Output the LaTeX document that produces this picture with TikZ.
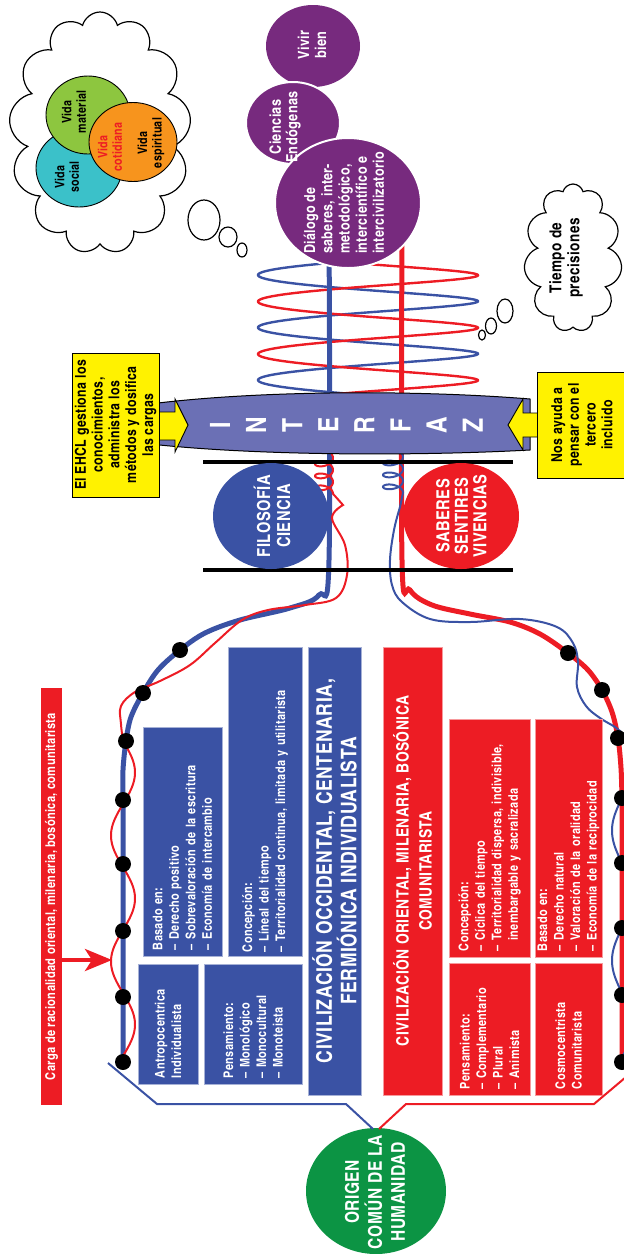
\documentclass[tikz,border=0pt]{standalone}
\usepackage{fontspec}
\usetikzlibrary{shapes.symbols,arrows.meta}
\setmainfont{texgyreheroscn-bold}[Extension=.otf]
\newfontfamily\cn{texgyreheroscn-bold}[Extension=.otf, LetterSpace=2.5]

\definecolor{civblue}{RGB}{58,82,164}
\definecolor{civred}{RGB}{237,28,36}
\definecolor{lenscol}{RGB}{107,112,181}
\definecolor{purp}{RGB}{119,42,126}
\definecolor{origin}{RGB}{12,148,68}
\definecolor{yel}{RGB}{255,242,0}
\definecolor{vgreen}{RGB}{141,198,63}
\definecolor{vteal}{RGB}{59,193,201}
\definecolor{vorange}{RGB}{247,148,29}

\tikzset{
  rtxt/.style={rotate=90, inner sep=0pt, font=\cn, align=center},
  civbox/.style={rotate=90, inner sep=0pt, text=white, fill=#1, draw=white!55!#1,
    line width=0.6, font=\cn\fontsize{13.3}{16.5}\selectfont, align=left},
  bluebox/.style={civbox=civblue},
  redbox/.style={civbox=civred},
  thought/.style={cloud, draw, line width=1.2, fill=white, cloud ignores aspect, inner sep=0pt},
  bubble/.style={draw, line width=1.2, fill=white},
  disc/.style={draw=black, line width=0.9},
  vida/.style={rtxt, font=\cn\fontsize{13}{14.5}\selectfont},
  rope/.style={line width=5},
  thread/.style={line width=2},
  knot/.style={fill=black},
  yelbox/.style={rotate=90, fill=yel, draw=black, line width=1, inner sep=0pt,
    font=\cn\fontsize{15}{16.8}\selectfont, align=center},
  letter/.style={rotate=90, inner sep=0pt, text=white, font=\cn\fontsize{28}{28}\selectfont},
}

\begin{document}
\begin{tikzpicture}[x=1pt,y=-1pt]
\useasboundingbox (0,0) rectangle (624,1254);
\clip (0,0) rectangle (624,1254);

% ---------- thought cloud with the three lives ----------
\node[thought, cloud puffs=13, minimum width=182, minimum height=242] (vcloud) at (100,133) {};
\draw[bubble] (204,220) ellipse [x radius=16, y radius=20];
\draw[bubble] (228,237) ellipse [x radius=9, y radius=10];
\draw[bubble] (242,250) ellipse [x radius=5, y radius=7];
\filldraw[disc, fill=vteal] (79,168) ellipse [x radius=43, y radius=39];
\filldraw[disc, fill=vgreen] (88,115) ellipse [x radius=42, y radius=39];
\filldraw[disc, fill=vorange] (133,142) ellipse [x radius=44, y radius=39.5];
\node[vida] (vmat) at (74,112) {Vida\\material};
\node[vida] (vsoc) at (67,177) {Vida\\social};
\node[vida, text=civred] (vcot) at (110,147) {Vida\\cotidiana};
\node[vida] (vesp) at (151,143) {Vida\\espiritual};

% ---------- second thought cloud ----------
\node[thought, cloud puffs=11, minimum width=98, minimum height=148] (tcloud) at (573,258) {};
\draw[bubble] (505,311) ellipse [x radius=8, y radius=12];
\draw[bubble] (491,326) ellipse [x radius=5.5, y radius=8];
\draw[bubble] (482,335) ellipse [x radius=3.5, y radius=5];
\node[rtxt, font=\cn\fontsize{16.5}{18}\selectfont] (tiempo) at (566,258) {Tiempo de\\precisiones};

% ---------- double helix ----------
\draw[civblue, line width=2.4, domain=-1.2:15.2, samples=320, variable=\t]
  plot ({368-110*cos(\t r)}, {275+8.36*\t+2*sin(\t r)});
\draw[civred, line width=2.4, domain=1.2:18, samples=320, variable=\t]
  plot ({368-110*cos(\t r)}, {249+8.36*\t+2*sin(\t r)});

% ---------- ropes ----------
\coordinate (bd1) at (180,650); \coordinate (bd2) at (143,693); \coordinate (bd3) at (126,741);
\coordinate (bd4) at (123,800); \coordinate (bd5) at (123,864); \coordinate (bd6) at (123,931);
\coordinate (bd7) at (123,997); \coordinate (bd8) at (123,1062);
\coordinate (rd1) at (568,653); \coordinate (rd2) at (602,690); \coordinate (rd3) at (618,738);
\coordinate (rd4) at (622,798); \coordinate (rd5) at (622,863); \coordinate (rd6) at (622,928);
\coordinate (rd7) at (622,995); \coordinate (rd8) at (622,1062);

\draw[civblue, rope] plot[smooth, tension=0.55] coordinates {(329,225) (329,560) (319,595) (290,608)
  (240,620) (205,633) (bd1) (158,670) (bd2) (131,717) (bd3) (123,770) (bd4)} -- (bd8);
\draw[civred, rope] plot[smooth, tension=0.55] coordinates {(402,225) (402,560) (410,590) (432,605)
  (470,614) (510,622) (540,634) (rd1) (588,670) (rd2) (612,712) (rd3) (621,768) (rd4)} -- (rd8);

% thin red thread wound round the blue rope
\draw[civred, thread, domain=-0.6:18.85, samples=200, variable=\t]
  plot ({324+9*cos(\t r)}, {458+1.9*\t+5*sin(\t r)})
  -- plot[smooth, tension=0.6] coordinates {(343,505) (332,518) (345,545) (347,575) (336,598)
  (305,605) (268,610) (242,620) (215,643) (190,665) (160,681) (135,692) (121,706) (121,724) (123,741)}
  -- plot[domain=741:1060, samples=160, variable=\y] ({123+12*sin(((\y-741)/63)*180)}, {\y});

% thin blue thread wound round the red rope
\draw[civblue, thread, domain=-0.6:18.85, samples=200, variable=\t]
  plot ({393+10*cos(\t r)}, {457+1.9*\t+5*sin(\t r)})
  -- plot[smooth, tension=0.6] coordinates {(400,507) (394,530) (390,560) (392,585) (402,602)
  (430,619) (470,622) (520,619) (557,627) (573,643) (578,662) (577,687) (586,706) (600,718)
  (615,727) (622,733)}
  -- plot[domain=733:1060, samples=160, variable=\y] ({622-10*sin(((\y-798)/65)*180)}, {\y});

% ---------- purple circles ----------
\fill[purp] (313,46) ellipse [x radius=47, y radius=41];
\filldraw[purp, draw=white, line width=2] (293,123) ellipse [x radius=47, y radius=41];
\filldraw[purp, draw=white, line width=2] (348,203) ellipse [x radius=73, y radius=65];
\node[rtxt, text=white, font=\cn\fontsize{15.5}{17}\selectfont] (vivir) at (312,45) {Vivir\\bien};
\node[rtxt, text=white, font=\cn\fontsize{15.5}{16.5}\selectfont] (ciencias) at (285,127) {Ciencias\\Endógenas};
\node[rtxt, text=white, align=left, font=\cn\fontsize{15.2}{17.2}\selectfont] (dialogo) at (344,203)
  {Diálogo de\\saberes, inter-\\metodológico,\\intercientífico e\\intercivilizatorio};

% ---------- interface lens ----------
\filldraw[fill=lenscol, draw=black, line width=1] (150,404) .. controls (260,390) and (420,390) .. (530,399)
  -- (530,450) .. controls (420,456) and (260,456) .. (150,444) -- cycle;
\foreach \ch [count=\i] in {I,N,T,E,R,F,A,Z}{
  \pgfmathsetmacro{\lx}{220+36.1*(\i-1)}
  \node[letter] (lt\i) at (\lx,425) {\ch};
}

% arrows from the two notes into the lens
\filldraw[fill=yel, draw=black, line width=0.9] (155,412) -- (175,412) -- (175,399) -- (188,425)
  -- (175,452) -- (175,440) -- (155,440) -- cycle;
\filldraw[fill=yel, draw=black, line width=0.9] (541,413) -- (523,413) -- (523,399) -- (508,425)
  -- (523,450) -- (523,437) -- (541,437) -- cycle;
\node[yelbox, minimum width=144, minimum height=87] (ehcl) at (115.5,425)
  {El EHCL gestiona los\\conocimientos,\\administra los\\métodos y dosifica\\las cargas};
\node[yelbox, minimum width=106, minimum height=90] (tercero) at (582,425)
  {Nos ayuda a\\pensar con el\\tercero\\incluido};

% ---------- frame bars and the two sources ----------
\draw[line width=4] (203,462) -- (513,462);
\draw[line width=4] (203,570) -- (513,570);
\fill[civblue] (271,516) ellipse [x radius=58, y radius=53];
\fill[civred] (461,516) ellipse [x radius=58, y radius=53];
\node[rtxt, text=white, font=\cn\fontsize{18}{20}\selectfont] (filo) at (272,516) {FILOSOFÍA\\CIENCIA};
\node[rtxt, text=white, font=\cn\fontsize{18}{18.5}\selectfont] (saberes) at (461.5,516) {SABERES\\SENTIRES\\VIVENCIAS};

% knots on the ropes
\foreach \k in {bd1,bd2,bd3,bd4,bd5,bd6,bd7,bd8,rd1,rd2,rd3,rd4,rd5,rd6,rd7,rd8}
  \fill[knot] (\k) circle (8);

% ---------- load bar ----------
\node[rtxt, fill=civred, text=white, minimum width=417, minimum height=21,
  font=\cn\fontsize{13.5}{14}\selectfont] (carga) at (51.5,896.5)
  {Carga de racionalidad oriental, milenaria, bosónica, comunitarista};
\coordinate (cargatip) at (112,960);
\draw[civred, line width=4, -{Stealth[length=27pt, width=22pt, inset=7pt]}] (carga.south |- cargatip) -- (cargatip);

% ---------- western civilisation ----------
\node[bluebox, minimum width=229, minimum height=79, text width=217] (occbas) at (182.5,841.5)
  {Basado en:\\– Derecho positivo\\– Sobrevaloración de la escritura\\– Economía de intercambio};
\node[bluebox, minimum width=120, minimum height=60, text width=108] (occant) at (168,1024)
  {Antropocentrica\\Individualista};
\node[bluebox, minimum width=120, minimum height=98, text width=108] (occpen) at (253,1024)
  {Pensamiento:\\– Monológico\\– Monocultural\\– Monoteista};
\node[bluebox, minimum width=309, minimum height=74, text width=301] (occcon) at (265,801.5)
  {Concepción:\\– Líneal del tiempo\\– Territorialidad continua, limitada y utilitarista};
\node[bluebox, minimum width=448, minimum height=53, align=center,
  font=\cn\fontsize{21.5}{19.5}\selectfont] (occtit) at (334.5,871)
  {CIVILIZACIÓN OCCIDENTAL, CENTENARIA,\\FERMIÓNICA INDIVIDUALISTA};

% ---------- eastern civilisation ----------
\node[redbox, minimum width=448, minimum height=59, align=center,
  font=\cn\fontsize{17}{23}\selectfont] (oritit) at (412.5,871)
  {CIVILIZACIÓN ORIENTAL, MILENARIA, BOSÓNICA\\COMUNITARISTA};
\node[redbox, minimum width=238, minimum height=81, text width=226] (oricon) at (489.5,838)
  {Concepción:\\– Cíclica del tiempo\\– Territorialidad dispersa, indivisible,\\\phantom{– }inembargable y sacralizada};
\node[redbox, minimum width=132, minimum height=81, text width=120] (oripen) at (489.5,1029)
  {Pensamiento:\\– Complementario\\– Plural\\– Animista};
\node[redbox, minimum width=238, minimum height=67, text width=226] (oribas) at (568.5,838)
  {Basado en:\\– Derecho natural\\– Valoración de la oralidad\\– Economía de la reciprocidad};
\node[redbox, minimum width=132, minimum height=67, text width=120] (oricos) at (568.5,1029)
  {Cosmocentrista\\Comunitarista};

% ---------- common origin ----------
\fill[origin] (376,1191) ellipse [x radius=70, y radius=63];
\node[rtxt, text=white, font=\cn\fontsize{19}{23}\selectfont] (origen) at (375,1192)
  {ORIGEN\\COMÚN DE LA\\HUMANIDAD};
\coordinate (otop) at (376,1129);
\draw[civblue, line width=2] (108,1063) -- (157,1104) -- (346,1104) -- ([xshift=-3pt]otop);
\draw[civred, line width=2] ([xshift=3pt]otop) -- (406,1104) -- (594,1104) -- (626,1077);
\end{tikzpicture}
\end{document}
